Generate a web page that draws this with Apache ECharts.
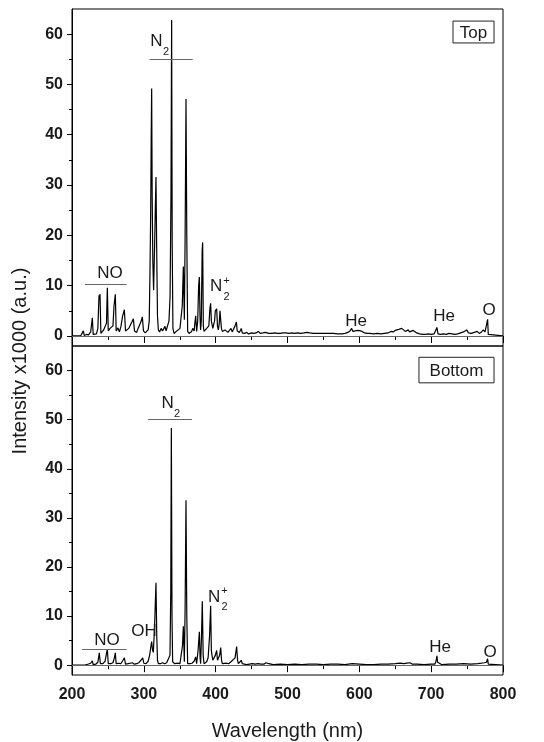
<!DOCTYPE html>
<html>
<head>
<meta charset="utf-8">
<script src="https://cdn.jsdelivr.net/npm/echarts@6/dist/echarts.min.js"></script>
<style>html,body{margin:0;padding:0;background:#fff;}#c{width:544px;height:742px;}</style>
</head>
<body>
<div id="c"></div>
<script>
// ---- Data (wavelength nm, intensity x1000 a.u.) ----
const topWl = [200,212,214,215.8,217,220,223,226,228.3,229.5,232,234,236,237.6,238.3,239,240.2,242,244,246,248,249.2,250.5,253,255,257,258.5,260.3,261.5,264,266,268,270.5,272.9,274.5,277,279,281,283.5,285.4,287,290,292,294,296,297.9,299.5,302,304,306,307.5,308.5,309.5,310.3,310.9,311.6,312.5,313.6,315,316.9,318,319,320.2,322,324,326,328,329.5,331,333,335,336.5,337.8,338.7,339.5,340.5,342,344,346,348,350.3,352,353.5,355,356.4,357.5,358.7,359.8,361,363,365,366.6,368,370,371,372.2,373.5,375,376.3,377.3,378.2,379,380,381.2,381.9,382.8,383.8,385.5,387.5,389,390.5,392,393,394,394.9,396,397.2,398.5,399.5,401.4,402.5,403.7,405,406,407,408,409.3,411,413,415.3,417,419,421.3,423,425,427,428.8,430,431.6,433,435.7,437,440,443.2,446,450,453,456,459.4,462,466,469,471,474,478,482,486,490,494,498,502,506,510,514,518,523,527,531,536,540,546,552,558,564,570,576,580,584,587,589.3,591,594,596,598.6,601,604,607,611,615,620,625,630,635,640,644,647,650,652,655,657,659,661,664,666,668,670,672,675,677.5,680,684,688,692,696,700,704,706.5,708,709.5,713,717,721,725,729,733,737,741,745,747,749.4,752,756,760,764,767,770,772.6,775,777.5,778.6,779.5,781,800];
const topInt = [0,0,0.2,1.0,0.1,0.3,0.2,0.8,3.6,0.3,0.5,0.4,1.5,8.1,7.5,8.3,0.5,0.8,1.2,1.0,2.5,9.6,1.0,1.5,1.2,2.0,6.0,8.3,1.0,1.6,0.8,1.8,4.0,5.2,1.0,0.8,1.5,1.2,2.8,3.4,1.0,0.7,1.5,1.3,2.8,3.8,1.0,0.6,0.8,1.2,3.0,12.0,24.0,40.0,49.2,28.0,15.0,9.1,18.0,31.6,16.0,4.0,1.2,0.8,1.5,1.0,1.2,1.9,1.0,1.2,3.0,7.8,28.0,62.8,18.0,1.5,0.5,0.8,1.0,0.7,1.5,1.5,6.0,13.8,3.2,20.0,47.1,20.0,0.9,0.5,0.8,0.9,1.5,1.0,2.5,4.0,0.9,3.0,10.0,11.7,4.0,1.2,3.0,17.0,18.6,2.0,0.9,1.2,1.5,1.5,2.0,5.5,6.5,3.0,2.8,1.5,1.2,3.0,5.0,5.4,2.0,1.2,2.5,5.0,5.2,1.5,0.9,1.0,1.2,0.9,0.7,1.0,1.5,0.8,1.0,2.0,2.8,1.0,0.9,0.7,1.5,0.6,0.5,0.7,0.4,0.6,0.5,0.6,0.9,0.5,0.6,0.7,0.9,0.5,0.5,0.6,0.5,0.5,0.6,0.6,0.5,0.6,0.5,0.6,0.5,0.6,0.7,0.6,0.5,0.5,0.5,0.5,0.5,0.5,0.4,0.4,0.5,0.7,1.0,1.5,0.9,1.0,1.2,1.1,0.8,0.9,0.6,0.5,0.5,0.4,0.5,0.4,0.5,0.6,0.9,0.8,1.1,1.0,1.3,1.1,1.5,1.2,0.9,1.2,1.2,0.8,1.0,1.1,1.2,0.6,0.4,0.3,0.3,0.4,0.3,0.4,0.6,1.7,0.4,0.3,0.4,0.3,0.5,0.4,0.3,0.4,0.6,0.8,1.0,1.2,0.6,0.5,0.7,0.9,0.5,0.8,1.2,0.8,0.9,3.3,0.3,0,0];

const botWl = [200,214,216.7,218,222,226,228.3,229.5,233,236,238,239.5,243,246,247.5,249.2,250.5,254,257,259,260.3,261.5,265,268,271,272.9,274.5,278,281,284,285.4,287,290,293,296,298.4,300,303,306,308,309.5,310.9,312,313.2,315,316.9,318,319,320.2,323,326,329,331.8,334,336.4,337.5,338.3,339.2,340.1,343,346,350.3,352,353.8,355,356.4,357.5,358.7,359.8,361,364,367,370,372.2,373.5,375.5,377.3,378.3,379.1,380.3,381.4,382.6,383.8,386,387.5,389.5,391.5,393,394,394.9,396,397.2,399.5,401.4,402.5,403.7,405.5,407,408.2,409.3,412,415,418,421.3,424,427,429.2,430.5,431.6,434,435.7,437,440,443.2,447,451,455,459,463,467,470,472.4,474,475.6,480,490,500,510,520,530,540,550,560,570,580,590,600,610,620,630,640,650,656.6,662,666,670.5,674,680,690,700,705,706.8,708,709,710,715,725,735,745,755,765,770,774,777,778.6,779.5,781,800];
const botInt = [0,0,0.3,0,0.2,0.4,0.9,0.1,0.2,0.6,2.5,0.3,0.3,0.8,2.0,3.2,0.3,0.3,0.5,1.5,2.5,0.3,0.4,0.3,1.0,1.5,0.2,0.3,0.4,0.5,0.7,0.2,0.3,0.5,1.0,1.5,0.4,0.3,0.8,2.0,3.5,4.8,3.2,2.6,8.0,16.8,6.0,1.0,0.3,0.3,0.5,0.3,0.5,0.8,2.0,15.0,48.3,10.0,0.7,0.3,0.4,0.3,0.5,4.0,7.9,0.7,12.0,33.6,10.0,0.3,0.3,0.4,0.8,1.7,0.3,3.0,6.8,1.5,0.3,6.0,13.0,2.0,0.3,0.5,0.7,1.5,6.0,12.1,3.0,2.0,1.0,0.7,2.0,3.0,1.0,0.7,2.0,3.6,1.0,0.3,0.3,0.4,0.3,0.7,0.3,1.5,3.8,1.0,0.3,0.5,1.0,0.3,0.2,0.1,0.2,0.3,0.2,0.3,0.2,0.2,0.5,0.9,0.3,0.1,0.1,0.2,0.1,0.2,0.1,0.2,0.2,0.1,0.2,0.2,0.1,0.3,0.2,0.1,0.1,0.2,0.2,0.3,0.4,0.3,0.4,0.5,0.2,0.2,0.1,0.2,0.2,0.8,1.9,0.6,0.3,0.1,0.2,0.2,0.3,0.2,0.3,0.4,0.5,0.6,1.3,0.2,0,0];

const xTicks = [200,300,400,500,600,700,800];
const yTicks = [0,10,20,30,40,50,60];
const yMinorTicks = [5,15,25,35,45,55];

// annotations: [text, x, y] in data units
const topLabels = [['NO',252.9,12.4],['He',595.4,3.0],['He',717.9,4.0],['O',780.5,5.0]];
const botLabels = [['NO',248.7,5.1],['OH',300.2,6.9],['He',712.3,3.6],['O',782,2.7]];
const topN2 = [317.6,58.5], topN2p = [400.5,9.8];
const botN2 = [333,53.3], botN2p = [397.7,13.9];
const topBars = [[308,368,55],[218,276,10.3]];
const botBars = [[306,367,50],[214,276,3.3]];

const FONT = '"Liberation Sans", Arial, sans-serif';
const TXT = '#1a1a1a';

function pairs(a,b){return a.map((v,i)=>[v,b[i]]);}

const chart = echarts.init(document.getElementById('c'), null, {renderer:'canvas'});

function xAxisCfg(g, showLabels){
  return {
    type:'value', gridIndex:g, min:200, max:800, interval:100,
    axisLine:{show:true,lineStyle:{color:'#000',width:1}},
    axisTick:{show:true,inside:false,length:7,lineStyle:{color:'#000'}},
    minorTick:{show:true,splitNumber:2,length:4,lineStyle:{color:'#000'}},
    splitLine:{show:false},
    axisLabel:{show:showLabels,fontFamily:FONT,fontWeight:'bold',fontSize:16,color:TXT,margin:12},
    name: showLabels ? 'Wavelength (nm)' : '',
    nameLocation:'middle', nameGap:46,
    nameTextStyle:{fontFamily:FONT,fontSize:20,color:TXT}
  };
}
function yMajor(g){
  return {
    type:'value', gridIndex:g, min:-2, max:65, position:'left',
    axisLine:{show:true,lineStyle:{color:'#000',width:1}},
    axisTick:{show:true,inside:false,length:5,customValues:yTicks,lineStyle:{color:'#000'}},
    axisLabel:{show:true,customValues:yTicks,fontFamily:FONT,fontWeight:'bold',fontSize:16,color:TXT,margin:9},
    splitLine:{show:false}
  };
}
function yMinor(g){
  return {
    type:'value', gridIndex:g, min:-2, max:65, position:'left',
    axisLine:{show:false},
    axisTick:{show:true,inside:false,length:3,customValues:yMinorTicks,lineStyle:{color:'#000'}},
    axisLabel:{show:false},
    splitLine:{show:false}
  };
}
function barLines(bars){
  return bars.map(b=>[{coord:[b[0],b[2]]},{coord:[b[1],b[2]]}]);
}

chart.setOption({
  animation:false,
  grid:[
    {left:72, top:9, width:431, height:337, show:true, borderColor:'#000', borderWidth:1},
    {left:72, top:346, width:431, height:337, show:true, borderColor:'#000', borderWidth:1}
  ],
  xAxis:[xAxisCfg(0,false), xAxisCfg(1,true)],
  yAxis:[yMajor(0), yMinor(0), yMajor(1), yMinor(1)],
  series:[
    {type:'line', xAxisIndex:0, yAxisIndex:0, data:pairs(topWl,topInt), showSymbol:false, symbol:'none',
     lineStyle:{color:'#000',width:1.2}, silent:true, z:3,
     markLine:{silent:true, symbol:'none', label:{show:false}, lineStyle:{color:'#666',width:1,type:'solid'},
       data:[[{coord:[200,0]},{coord:[800,0]}]].concat(barLines(topBars))}},
    {type:'line', xAxisIndex:1, yAxisIndex:2, data:pairs(botWl,botInt), showSymbol:false, symbol:'none',
     lineStyle:{color:'#000',width:1.2}, silent:true, z:3,
     markLine:{silent:true, symbol:'none', label:{show:false}, lineStyle:{color:'#666',width:1,type:'solid'},
       data:[[{coord:[200,0]},{coord:[800,0]}]].concat(barLines(botBars))}}
  ]
});

function px(g, x, y){
  return chart.convertToPixel({xAxisIndex:g, yAxisIndex: g===0?0:2}, [x,y]);
}
function txt(x,y,s,size,extra){
  return Object.assign({type:'text', x:x, y:y, silent:true, z:10,
    style:{text:s, fill:TXT, font:'normal '+size+'px '+FONT, textAlign:'center', textVerticalAlign:'middle'}}, extra||{});
}
const gr = [];
[[0,topLabels],[1,botLabels]].forEach(([g,labels])=>{
  labels.forEach(l=>{const p=px(g,l[1],l[2]); gr.push(txt(p[0],p[1],l[0],17));});
});
[[0,topN2,topN2p],[1,botN2,botN2p]].forEach(([g,n2,n2p])=>{
  let p=px(g,n2[0],n2[1]);
  gr.push(txt(p[0],p[1],'N',17)); gr.push(txt(p[0]+9.5,p[1]+10.5,'2',11));
  p=px(g,n2p[0],n2p[1]);
  gr.push(txt(p[0],p[1],'N',17)); gr.push(txt(p[0]+10.5,p[1]-6,'+',11)); gr.push(txt(p[0]+10.5,p[1]+10,'2',11));
});
// boxed panel names
function box(g, x0,x1,y0,y1, s){
  const a=px(g,x0,y0), b=px(g,x1,y1);
  gr.push({type:'rect', silent:true, z:10, shape:{x:a[0],y:a[1],width:b[0]-a[0],height:b[1]-a[1]},
    style:{fill:'#fff',stroke:'#222',lineWidth:1}});
  gr.push(txt((a[0]+b[0])/2,(a[1]+b[1])/2+1,s,17,{z:11}));
}
box(0,730.4,787.5,62.6,58.25,'Top');
box(1,683,787.5,62.7,57.5,'Bottom');
// shared y-axis title
gr.push({type:'text', x:20, y:361, rotation:Math.PI/2, silent:true,
  style:{text:'Intensity x1000 (a.u.)', fill:TXT, font:'normal 20px '+FONT, textAlign:'center', textVerticalAlign:'middle'}});
chart.setOption({graphic:gr});
</script>
</body>
</html>
